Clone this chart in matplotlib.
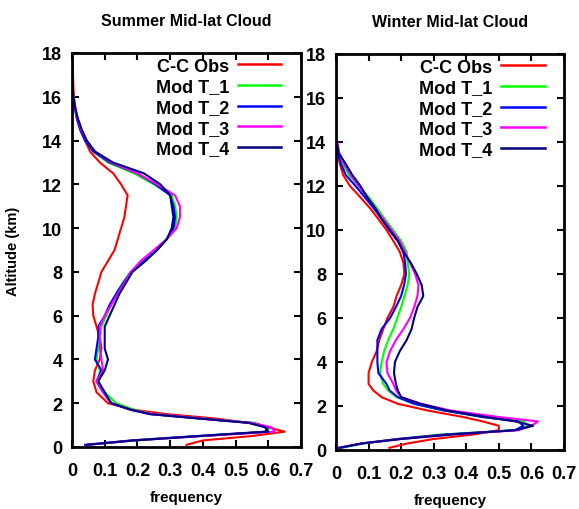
import matplotlib
matplotlib.use("Agg")
import matplotlib.pyplot as plt

# ---------------- data ----------------
series_labels = ["C-C Obs", "Mod T_1", "Mod T_2", "Mod T_3", "Mod T_4"]
series_colors = ["#ff0000", "#00ff00", "#0000ff", "#ff00ff", "#000080"]

# Summer
sum_obs_alt = [0.1, 0.3, 0.5, 0.7, 0.9, 1.1, 1.3, 1.5, 1.7, 2.0, 2.5, 3.0, 3.5, 4.0, 4.5, 5.0, 5.5, 6.0, 6.5,
               7.0, 7.5, 8.0, 8.5, 9.0, 9.5, 10.0, 10.5, 11.0, 11.5, 12.0, 12.5, 13.0, 13.5, 14.0, 14.5,
               15.0, 15.5, 16.0, 16.5, 17.0, 17.8]
sum_obs = [0.35, 0.40, 0.55, 0.65, 0.60, 0.54, 0.44, 0.29, 0.19, 0.11, 0.075, 0.065, 0.07, 0.085, 0.09, 0.085,
           0.075, 0.065, 0.063, 0.07, 0.08, 0.09, 0.11, 0.13, 0.14, 0.15, 0.16, 0.165, 0.17, 0.15, 0.126,
           0.085, 0.055, 0.04, 0.025, 0.015, 0.01, 0.006, 0.004, 0.003, 0.002]
sum_mod_alt = [0.1, 0.3, 0.5, 0.7, 0.9, 1.1, 1.3, 1.5, 1.7, 2.0, 2.5, 3.0, 3.5, 4.0, 4.5, 5.0, 5.5, 6.0, 6.5,
               7.0, 7.5, 8.0, 8.5, 9.0, 9.5, 10.0, 10.5, 11.0, 11.5, 12.0, 12.5, 13.0, 13.5, 14.0, 14.5,
               15.0, 15.5, 16.0, 16.6]
sum_t1 = [0.05, 0.19, 0.39, 0.60, 0.60, 0.56, 0.40, 0.25, 0.19, 0.135, 0.10, 0.08, 0.085, 0.075, 0.08, 0.085,
          0.09, 0.105, 0.12, 0.135, 0.155, 0.18, 0.22, 0.26, 0.29, 0.315, 0.32, 0.315, 0.305, 0.25, 0.19,
          0.11, 0.065, 0.04, 0.027, 0.017, 0.009, 0.004, 0.002]
sum_t2 = [0.04, 0.18, 0.38, 0.59, 0.60, 0.55, 0.39, 0.24, 0.18, 0.12, 0.095, 0.075, 0.09, 0.07, 0.075, 0.08,
          0.08, 0.10, 0.115, 0.135, 0.157, 0.18, 0.22, 0.26, 0.29, 0.31, 0.315, 0.31, 0.30, 0.255, 0.20,
          0.115, 0.065, 0.04, 0.025, 0.015, 0.008, 0.003, 0.002]
sum_t3 = [0.05, 0.19, 0.40, 0.62, 0.61, 0.55, 0.40, 0.25, 0.18, 0.12, 0.095, 0.075, 0.095, 0.09, 0.085, 0.085,
          0.085, 0.10, 0.12, 0.14, 0.16, 0.18, 0.21, 0.25, 0.29, 0.32, 0.33, 0.33, 0.315, 0.26, 0.20,
          0.12, 0.07, 0.045, 0.028, 0.017, 0.009, 0.004, 0.002]
sum_t4 = [0.045, 0.19, 0.39, 0.60, 0.59, 0.54, 0.39, 0.24, 0.18, 0.12, 0.10, 0.08, 0.10, 0.11, 0.10, 0.10,
          0.10, 0.115, 0.13, 0.145, 0.165, 0.185, 0.225, 0.26, 0.29, 0.305, 0.31, 0.305, 0.30, 0.27, 0.22,
          0.125, 0.07, 0.045, 0.03, 0.018, 0.01, 0.004, 0.002]

# Winter
win_alt = [0.1, 0.3, 0.5, 0.7, 0.9, 1.1, 1.3, 1.5, 1.8, 2.1, 2.4, 2.7, 3.0, 3.5, 4.0, 4.5, 5.0, 5.5, 6.0, 6.5,
           7.0, 7.5, 8.0, 8.5, 9.0, 9.5, 10.0, 10.5, 11.0, 11.5, 12.0, 12.5, 13.0, 13.5, 14.0]
win_obs = [0.164, 0.22, 0.30, 0.42, 0.50, 0.50, 0.45, 0.39, 0.28, 0.19, 0.14, 0.115, 0.10, 0.10, 0.11, 0.125,
           0.133, 0.145, 0.158, 0.176, 0.186, 0.20, 0.21, 0.207, 0.196, 0.176, 0.155, 0.13, 0.104, 0.074,
           0.043, 0.022, 0.012, 0.005, 0.001]
win_t1 = [0.02, 0.085, 0.19, 0.32, 0.55, 0.59, 0.575, 0.45, 0.33, 0.24, 0.186, 0.16, 0.145, 0.135, 0.14, 0.148,
          0.16, 0.176, 0.188, 0.20, 0.21, 0.22, 0.225, 0.22, 0.217, 0.20, 0.175, 0.15, 0.125, 0.10, 0.07,
          0.04, 0.02, 0.008, 0.002]
win_t2 = [0.01, 0.08, 0.19, 0.33, 0.55, 0.575, 0.56, 0.45, 0.33, 0.24, 0.19, 0.165, 0.155, 0.13, 0.127, 0.127,
          0.127, 0.14, 0.166, 0.184, 0.20, 0.209, 0.215, 0.212, 0.207, 0.19, 0.163, 0.14, 0.115, 0.088,
          0.06, 0.03, 0.015, 0.006, 0.002]
win_t3 = [0.01, 0.08, 0.20, 0.35, 0.56, 0.60, 0.62, 0.50, 0.35, 0.26, 0.20, 0.185, 0.176, 0.158, 0.155, 0.166,
          0.184, 0.207, 0.227, 0.24, 0.25, 0.253, 0.243, 0.227, 0.212, 0.195, 0.17, 0.145, 0.12, 0.095,
          0.07, 0.045, 0.025, 0.01, 0.004]
win_t4 = [0.01, 0.08, 0.20, 0.35, 0.55, 0.605, 0.55, 0.46, 0.34, 0.26, 0.20, 0.19, 0.184, 0.178, 0.181, 0.196,
          0.217, 0.232, 0.24, 0.25, 0.268, 0.263, 0.248, 0.23, 0.207, 0.19, 0.165, 0.14, 0.12, 0.095,
          0.075, 0.05, 0.03, 0.008, 0.003]

x_ticks = [0, 0.1, 0.2, 0.3, 0.4, 0.5, 0.6, 0.7]
x_ticklabels = ["0", "0.1", "0.2", "0.3", "0.4", "0.5", "0.6", "0.7"]
y_ticks = [0, 2, 4, 6, 8, 10, 12, 14, 16, 18]
y_ticklabels = ["0", "2", "4", "6", "8", "10", "12", "14", "16", "18"]

# ---------------- style ----------------
FAM = ["Liberation Sans", "DejaVu Sans"]
TICKFONT = dict(family=FAM, weight="bold", size=13)
LABFONT = dict(family=FAM, weight="bold")

W, H = 579, 510
fig = plt.figure(figsize=(W / 100, H / 100), dpi=100)


def px_axes(x0, y0, x1, y1):
    return fig.add_axes([x0 / W, 1 - y1 / H, (x1 - x0) / W, (y1 - y0) / H])


ax1 = px_axes(72, 54, 301, 448)
ax2 = px_axes(336, 55, 564, 451)

panels = [
    (ax1, "Summer Mid-lat Cloud",
     [(sum_obs_alt, sum_obs), (sum_mod_alt, sum_t1), (sum_mod_alt, sum_t2), (sum_mod_alt, sum_t3), (sum_mod_alt, sum_t4)]),
    (ax2, "Winter Mid-lat Cloud",
     [(win_alt, win_obs), (win_alt, win_t1), (win_alt, win_t2), (win_alt, win_t3), (win_alt, win_t4)]),
]

for ax, title, data in panels:
    for (alt, vals), lab, col in zip(data, series_labels, series_colors):
        ax.plot(vals, alt, color=col, lw=1.5, label=lab)
    ax.set_xlim(0, 0.7)
    ax.set_ylim(0, 18)
    ax.set_xticks(x_ticks)
    ax.set_xticklabels(x_ticklabels, fontdict=TICKFONT)
    ax.set_yticks(y_ticks)
    ax.set_yticklabels(y_ticklabels, fontdict=TICKFONT)
    ax.tick_params(axis="x", direction="in", length=5, width=1.5, top=True, pad=11)
    ax.tick_params(axis="y", direction="in", length=5, width=1.5, right=True, pad=7)
    for s in ax.spines.values():
        s.set_linewidth(2)
    ax.set_title(title, fontdict=dict(LABFONT, size=11.5), pad=20)
    ax.set_xlabel("frequency", fontdict=dict(LABFONT, size=11), labelpad=8)
    leg = ax.legend(loc="upper right", bbox_to_anchor=(0.97, 1.02), frameon=False, markerfirst=False,
                    prop=dict(family=FAM, weight="bold", size=13),
                    handlelength=2.4, handletextpad=0.5, labelspacing=0.2, borderpad=0.2)
    for line in leg.get_lines():
        line.set_linewidth(1.8)

ax1.set_ylabel("Altitude (km)", fontdict=dict(LABFONT, size=10.5), labelpad=16)

fig.savefig("out.png", dpi=100)
